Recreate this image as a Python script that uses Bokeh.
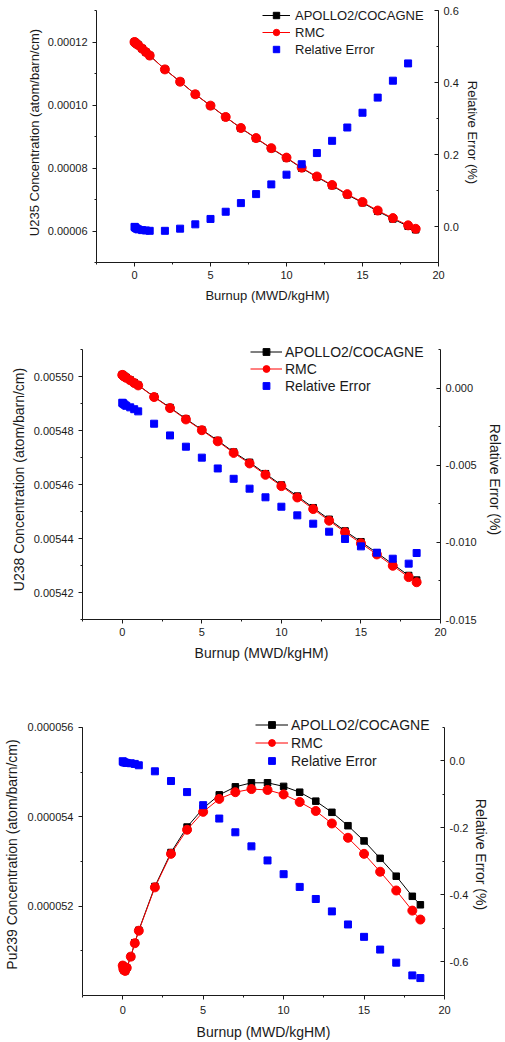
from bokeh.plotting import figure
from bokeh.models import (Range1d, LinearAxis, SingleIntervalTicker,
                          PrintfTickFormatter, Legend, LegendItem)
from bokeh.layouts import column
from bokeh.embed import file_html
from bokeh.resources import INLINE

FONT = "Liberation Sans"

# ---------------- data ----------------
burnup = [0, 0.0375, 0.075, 0.15, 0.25, 0.5, 0.75, 1, 2, 3, 4, 5, 6, 7, 8, 9,
          10, 11, 12, 13, 14, 15, 16, 17, 18, 18.5]

# U235 (atom/barn/cm)
u235_apollo = [1.2000e-4, 1.1985e-4, 1.1970e-4, 1.1940e-4, 1.1901e-4, 1.1791e-4,
               1.1681e-4, 1.1571e-4, 1.1131e-4, 1.0741e-4, 1.0339e-4, 0.9978e-4,
               0.9616e-4, 0.9264e-4, 0.8942e-4, 0.8620e-4, 0.8318e-4, 0.7996e-4,
               0.7714e-4, 0.7442e-4, 0.7150e-4, 0.6898e-4, 0.6626e-4, 0.6384e-4,
               0.6152e-4, 0.6041e-4]
u235_rmc = [1.2000e-4, 1.1985e-4, 1.1970e-4, 1.1940e-4, 1.1900e-4, 1.1790e-4,
            1.1680e-4, 1.1570e-4, 1.1130e-4, 1.0740e-4, 1.0340e-4, 0.9980e-4,
            0.9620e-4, 0.9270e-4, 0.8950e-4, 0.8630e-4, 0.8330e-4, 0.8010e-4,
            0.7730e-4, 0.7460e-4, 0.7170e-4, 0.6920e-4, 0.6650e-4, 0.6410e-4,
            0.6180e-4, 0.6070e-4]
u235_err_burnup = burnup[:-1]
u235_err = [-0.001, -0.002, -0.004, -0.006, -0.008, -0.010, -0.011, -0.012,
            -0.012, -0.006, 0.006, 0.021, 0.041, 0.065, 0.090, 0.117, 0.144,
            0.173, 0.204, 0.238, 0.275, 0.316, 0.358, 0.405, 0.453]

# U238 (atom/barn/cm)
u238_apollo = [0.0055007, 0.0055005, 0.0055003, 0.0055000, 0.0054996, 0.0054987,
               0.0054977, 0.0054968, 0.0054925, 0.0054885, 0.0054843, 0.0054803,
               0.0054763, 0.0054720, 0.0054682, 0.0054640, 0.0054598, 0.0054557,
               0.0054514, 0.0054471, 0.0054428, 0.0054388, 0.0054347, 0.0054305,
               0.0054263, 0.0054246]
u238_rmc = [0.0055006, 0.0055004, 0.0055002, 0.0054999, 0.0054995, 0.0054986,
            0.0054976, 0.0054967, 0.0054924, 0.0054883, 0.0054841, 0.0054801,
            0.0054760, 0.0054717, 0.0054678, 0.0054636, 0.0054594, 0.0054552,
            0.0054509, 0.0054466, 0.0054423, 0.0054382, 0.0054341, 0.0054299,
            0.0054257, 0.0054238]
u238_err = [-0.00095, -0.00098, -0.00102, -0.00108, -0.00115, -0.00125, -0.00137,
            -0.00151, -0.00231, -0.00307, -0.00380, -0.00451, -0.00521, -0.00588,
            -0.00652, -0.00708, -0.00769, -0.00825, -0.00879, -0.00931, -0.00978,
            -0.01026, -0.01067, -0.01106, -0.01138, -0.01069]

# Pu239 (atom/barn/cm)
pu239_apollo = [5.067e-5, 5.060e-5, 5.057e-5, 5.055e-5, 5.062e-5, 5.087e-5,
                5.118e-5, 5.146e-5, 5.244e-5, 5.320e-5, 5.377e-5, 5.419e-5,
                5.449e-5, 5.467e-5, 5.476e-5, 5.476e-5, 5.468e-5, 5.455e-5,
                5.435e-5, 5.410e-5, 5.380e-5, 5.346e-5, 5.307e-5, 5.267e-5,
                5.222e-5, 5.203e-5]
pu239_rmc = [5.067e-5, 5.060e-5, 5.057e-5, 5.055e-5, 5.062e-5, 5.087e-5,
             5.117e-5, 5.145e-5, 5.242e-5, 5.317e-5, 5.371e-5, 5.411e-5,
             5.440e-5, 5.455e-5, 5.462e-5, 5.460e-5, 5.450e-5, 5.433e-5,
             5.413e-5, 5.385e-5, 5.353e-5, 5.317e-5, 5.277e-5, 5.235e-5,
             5.190e-5, 5.170e-5]
pu239_err = [-0.001, -0.003, -0.004, -0.005, -0.006, -0.007, -0.009, -0.013,
             -0.031, -0.060, -0.093, -0.132, -0.172, -0.213, -0.255, -0.297,
             -0.338, -0.376, -0.412, -0.449, -0.488, -0.525, -0.563, -0.602,
             -0.640, -0.648]

x_ticks_interval = 5
x_label = "Burnup (MWD/kgHM)"
err_label = "Relative Error (%)"
legend_labels = ["APOLLO2/COCAGNE", "RMC", "Relative Error"]

INK = "#1a1a1a"


def style_axis(ax, tick_font, title_font, side):
    ax.axis_line_color = INK
    ax.axis_line_width = 1
    ax.major_tick_line_color = INK
    ax.minor_tick_line_color = INK
    if side == "right":
        ax.major_tick_in, ax.major_tick_out = 4, 0
        ax.minor_tick_in, ax.minor_tick_out = 2, 0
    else:
        ax.major_tick_in, ax.major_tick_out = 0, 4
        ax.minor_tick_in, ax.minor_tick_out = 0, 2
    ax.major_label_text_font = FONT
    ax.major_label_text_font_size = tick_font
    ax.major_label_text_color = INK
    ax.axis_label_text_font = FONT
    ax.axis_label_text_font_size = title_font
    ax.axis_label_text_font_style = "normal"
    ax.axis_label_text_color = INK


def panel(height, borders, frame_h, ext, yr, y_int, y_fmt, ylab, er, e_int,
          e_fmt, apollo, rmc, err_x, err, leg, tick_font, title_font, leg_font,
          stand):
    bl, br, bt, bb = borders
    lo, hi = yr
    elo, ehi = er
    # extend the frame upward (invisible) so the legend is not clipped;
    # the axes keep their true extent through their bounds
    y_top = hi + ext * (hi - lo) / frame_h
    e_top = ehi + ext * (ehi - elo) / frame_h
    p = figure(width=505, height=height, x_range=Range1d(-2.5, 20),
               y_range=Range1d(lo, y_top), output_backend="svg",
               toolbar_location=None, min_border_left=bl,
               min_border_right=br, min_border_top=bt, min_border_bottom=bb)
    try:
        p.frame_align = False
    except Exception:
        pass
    p.outline_line_color = None
    p.grid.visible = False
    p.extra_y_ranges = {"err": Range1d(elo, e_top)}

    xa = p.xaxis[0]
    xa.ticker = SingleIntervalTicker(interval=x_ticks_interval, num_minor_ticks=2)
    xa.axis_label = x_label
    style_axis(xa, tick_font, title_font, "below")
    xa.major_label_standoff = stand[0]
    xa.axis_label_standoff = stand[1]

    eps = (hi - lo) * 1e-6
    ya = p.yaxis[0]
    ya.bounds = (lo - eps, hi + eps)
    ya.ticker = SingleIntervalTicker(interval=y_int, num_minor_ticks=2)
    ya.formatter = PrintfTickFormatter(format=y_fmt)
    ya.axis_label = ylab
    style_axis(ya, tick_font, title_font, "left")
    ya.major_label_standoff = stand[2]
    ya.axis_label_standoff = stand[3]

    eeps = (ehi - elo) * 1e-6
    ra = LinearAxis(y_range_name="err", bounds=(elo - eeps, ehi + eeps))
    ra.ticker = SingleIntervalTicker(interval=e_int, num_minor_ticks=2)
    ra.formatter = PrintfTickFormatter(format=e_fmt)
    ra.axis_label = err_label
    style_axis(ra, tick_font, title_font, "right")
    ra.major_label_standoff = stand[4]
    ra.axis_label_standoff = stand[5]
    p.add_layout(ra, "right")

    l1 = p.line(burnup, apollo, line_color="black", line_width=1)
    s1 = p.scatter(burnup, apollo, marker="square", size=6.5,
                   fill_color="black", line_color="black")
    l2 = p.line(burnup, rmc, line_color="#ff0000", line_width=1)
    s2 = p.scatter(burnup, rmc, marker="circle", size=9,
                   fill_color="#ff0000", line_color="#ff0000")
    s3 = p.scatter(err_x, err, marker="square", size=7, fill_color="#0000ff",
                   line_color="#0000ff", y_range_name="err")

    vx, vy, gw, stdoff, lh, sp = leg
    legend = Legend(items=[LegendItem(label=legend_labels[0], renderers=[l1, s1]),
                           LegendItem(label=legend_labels[1], renderers=[l2, s2]),
                           LegendItem(label=legend_labels[2], renderers=[s3])],
                    location=(vx, vy), glyph_width=gw, glyph_height=lh,
                    label_height=lh, label_standoff=stdoff, spacing=sp,
                    padding=0, margin=0, border_line_color=None,
                    background_fill_alpha=0, label_text_font=FONT,
                    label_text_font_size=leg_font, label_text_color=INK)
    p.add_layout(legend)
    return p


# panel 1: canvas 0-320, frame (true) 10-262, x 96-438
p1 = panel(320, (96, 67, 2, 58), 252, 8, (0.00005, 0.00013), 0.00002, "%.5f",
           "U235 Concentration (atom/barn/cm)", (-0.1, 0.6), 0.2, "%.1f",
           u235_apollo, u235_rmc, u235_err_burnup, u235_err,
           (166, 205, 28, 5, 16, 1), "11px", "13px", "13px",
           (4, 6, 5, 3, 5, 3))

# panel 2: canvas 320-680, frame (true) 349-619, x 82-444
p2 = panel(360, (82, 61, 19, 61), 270, 10, (0.00541, 0.00551), 0.00002, "%.5f",
           "U238 Concentration (atom/barn/cm)", (-0.015, 0.0025), 0.005, "%.3f",
           u238_apollo, u238_rmc, burnup, u238_err,
           (168, 225, 32, 3, 17, 0), "11px", "14px", "14px",
           (4, 6, 5, 4, 5, 7))

# panel 3: canvas 680-1042, frame (true) 727-997, x 82-444
p3 = panel(362, (82, 61, 33, 45), 270, 14, (0.000050, 0.000056), 0.000002, "%.6f",
           "Pu239 Concentration (atom/barn/cm)", (-0.7, 0.1), 0.2, "%.1f",
           pu239_apollo, pu239_rmc, burnup, pu239_err,
           (173, 226, 33, 3, 17, 1), "11px", "14px", "14px",
           (6, 7, 5, 5, 5, 2))

layout = column(p1, p2, p3, spacing=0)
open("out.html", "w").write(file_html(layout, INLINE))
